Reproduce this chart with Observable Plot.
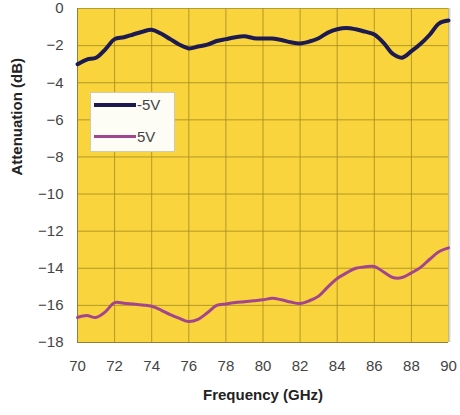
<!DOCTYPE html>
<html>
<head>
<meta charset="utf-8">
<script src="https://cdn.jsdelivr.net/npm/d3@7"></script>
<script src="https://cdn.jsdelivr.net/npm/@observablehq/plot@0.6"></script>
<style>
  html, body { margin: 0; padding: 0; background: #fff; }
  #wrap { position: relative; width: 460px; height: 415px; overflow: hidden; font-family: Arial, "Liberation Sans", sans-serif; }
  #legend { position: absolute; left: 90px; top: 92px; width: 85px; height: 60px; background: #fdfdf6; border: 1px solid #d0cab0; box-sizing: border-box; }
  .item { position: absolute; left: 3px; display: flex; align-items: center; font-size: 15px; color: #444; }
  .sw { width: 42px; margin-right: 1px; }
</style>
</head>
<body>
<div id="wrap"></div>
<script>
const freq = [70,70.5,71,71.5,72,72.5,73,73.5,74,74.5,75,75.5,76,76.5,77,77.5,78,78.5,79,79.5,80,80.5,81,81.5,82,82.5,83,83.5,84,84.5,85,85.5,86,86.5,87,87.5,88,88.5,89,89.5,90];
const neg5V = [-3.0,-2.75,-2.65,-2.2,-1.65,-1.55,-1.4,-1.25,-1.15,-1.35,-1.65,-1.95,-2.15,-2.05,-1.95,-1.75,-1.65,-1.55,-1.5,-1.6,-1.62,-1.62,-1.7,-1.82,-1.88,-1.78,-1.6,-1.3,-1.12,-1.05,-1.12,-1.25,-1.4,-1.85,-2.45,-2.65,-2.3,-1.9,-1.4,-0.8,-0.65];
const pos5V = [-16.65,-16.55,-16.65,-16.35,-15.85,-15.88,-15.92,-15.98,-16.05,-16.25,-16.5,-16.7,-16.87,-16.75,-16.4,-16.0,-15.92,-15.85,-15.8,-15.75,-15.7,-15.62,-15.7,-15.82,-15.9,-15.75,-15.5,-15.0,-14.55,-14.25,-14.0,-13.92,-13.9,-14.2,-14.5,-14.5,-14.25,-13.95,-13.5,-13.1,-12.9];
const seriesNames = ["-5V", "5V"];
const seriesColors = ["#1d1a52", "#a3458e"];
const seriesWidths = [4, 3];
const xTicks = [70,72,74,76,78,80,82,84,86,88,90];
const yTicks = [0,-2,-4,-6,-8,-10,-12,-14,-16,-18];

const rows = [];
freq.forEach((f, i) => {
  rows.push({f, v: neg5V[i], s: seriesNames[0]});
  rows.push({f, v: pos5V[i], s: seriesNames[1]});
});

const chart = Plot.plot({
  width: 460,
  height: 415,
  marginLeft: 77,
  marginRight: 12,
  marginTop: 8,
  marginBottom: 73,
  style: {fontFamily: "Arial, 'Liberation Sans', sans-serif", fontSize: "15px", color: "#444", background: "transparent"},
  x: {domain: [70, 90], ticks: xTicks, tickSize: 0, tickPadding: 18, label: null},
  y: {domain: [-18, 0], ticks: yTicks, tickSize: 0, tickPadding: 14, label: null},
  color: {domain: seriesNames, range: seriesColors},
  marks: [
    Plot.frame({fill: "#f9d43c", stroke: null}),
    Plot.gridX(xTicks, {stroke: "#a88e22", strokeOpacity: 0.85, strokeWidth: 1}),
    Plot.gridY(yTicks, {stroke: "#a88e22", strokeOpacity: 0.85, strokeWidth: 1}),
    Plot.ruleX([70], {stroke: "#8f7f38", strokeWidth: 1}),
    Plot.ruleY([-18], {stroke: "#8f7f38", strokeWidth: 1}),
    Plot.ruleX([90], {stroke: "#d8d8d0", strokeWidth: 2, dx: 1}),
    Plot.line(rows.filter(d => d.s === seriesNames[1]), {x: "f", y: "v", stroke: "s", strokeWidth: seriesWidths[1], curve: "catmull-rom"}),
    Plot.line(rows.filter(d => d.s === seriesNames[0]), {x: "f", y: "v", stroke: "s", strokeWidth: seriesWidths[0], curve: "catmull-rom"}),
    Plot.axisX(xTicks, {tickSize: 0, tickPadding: 18, label: null, fill: "#444", fontSize: 15}),
    Plot.axisY(yTicks, {tickSize: 0, tickPadding: 14, label: null, fill: "#444", fontSize: 15}),
    Plot.text(["Frequency (GHz)"], {frameAnchor: "bottom", dy: 57, fontWeight: "bold", fontSize: 15, fill: "#222", letterSpacing: "0.6px"}),
    Plot.text(["Attenuation (dB)"], {frameAnchor: "left", dx: -60, rotate: -90, fontWeight: "bold", fontSize: 15, fill: "#222"})
  ]
});

const wrap = document.getElementById("wrap");
wrap.appendChild(chart);

const legend = document.createElement("div");
legend.id = "legend";
seriesNames.forEach((name, i) => {
  const item = document.createElement("div");
  item.className = "item";
  item.style.top = (i === 0 ? 3 : 35) + "px";
  const sw = document.createElement("div");
  sw.className = "sw";
  sw.style.height = seriesWidths[i] + "px";
  sw.style.background = seriesColors[i];
  const t = document.createElement("span");
  t.textContent = name;
  item.appendChild(sw);
  item.appendChild(t);
  legend.appendChild(item);
});
wrap.appendChild(legend);
</script>
</body>
</html>
